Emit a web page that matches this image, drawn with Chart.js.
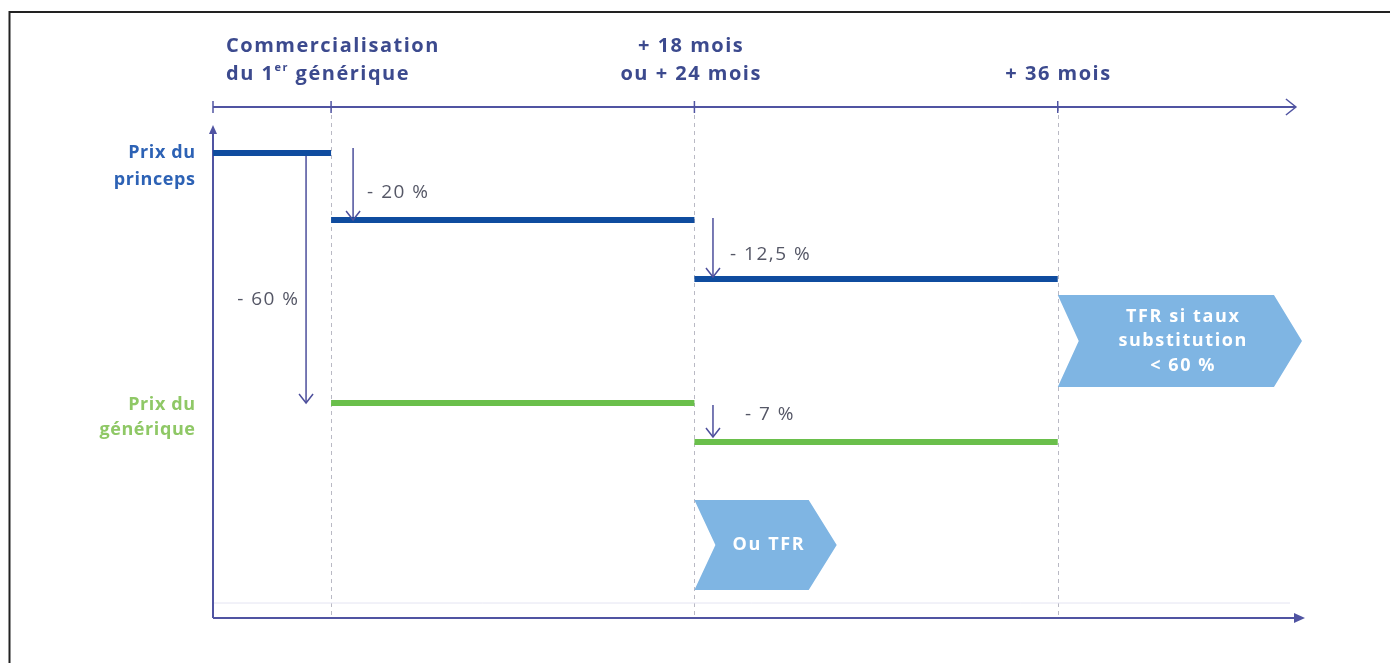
<!DOCTYPE html>
<html>
<head>
<meta charset="utf-8">
<script src="https://cdn.jsdelivr.net/npm/chart.js@4/dist/chart.umd.min.js"></script>
<style>
  html, body { margin: 0; padding: 0; background: #fff; }
</style>
</head>
<body>
<canvas id="frise" width="1390" height="663"></canvas>
<script>
// etapes de la frise (mois apres commercialisation du 1er generique)
const etapes = ['Commercialisation\ndu 1^er générique', '+ 18 mois\nou + 24 mois', '+ 36 mois'];
const etapeMois = [0, 18, 36];
const debutMois = -5.85;
const finMois = 48.25;

// niveaux de prix (schematiques, pas proportionnels)
const princepsNiveaux = [93, 79.6, 67.8];
const generiqueNiveaux = [43, 35.2];

// baisses de prix
const baisseLabels = ['- 20 %', '- 12,5 %', '- 60 %', '- 7 %'];
const baisseMois = [1.09, 18.92, -1.24, 18.92];
const baisseDe = [94, 80, 93, 42.6];
const baisseA = [79.6, 68.2, 43, 36.2];

// fleches TFR
const tfrLabels = ['TFR si taux\nsubstitution\n< 60 %', 'Ou TFR'];
const tfrMois = [[36, 48.1], [18, 25.05]];
const tfrNiveaux = [[46.2, 64.6], [5.6, 23.6]];

const axeColor = '#5054a2';
const flecheColor = '#4d4f9c';
const font = '"Open Sans", sans-serif';

function segments(niveaux, debuts, fins){
  const pts = [];
  niveaux.forEach((n, i) => {
    if (i > 0) pts.push({x: debuts[i], y: null});
    pts.push({x: debuts[i], y: n});
    pts.push({x: fins[i], y: n});
  });
  return pts;
}

const princepsData = segments(princepsNiveaux, [debutMois, etapeMois[0], etapeMois[1]], [etapeMois[0], etapeMois[1], etapeMois[2]]);
const generiqueData = segments(generiqueNiveaux, [etapeMois[0], etapeMois[1]], [etapeMois[1], etapeMois[2]]);

const datasets = [
  {label: 'Prix du princeps', data: princepsData, borderColor: '#0f4c9f', borderWidth: 6, spanGaps: false},
  {label: 'Prix du générique', data: generiqueData, borderColor: '#6abf4b', borderWidth: 6, spanGaps: false}
];
baisseLabels.forEach((l, i) => {
  datasets.push({
    label: l,
    data: [{x: baisseMois[i], y: baisseDe[i]}, {x: baisseMois[i], y: baisseA[i]}],
    borderColor: flecheColor,
    borderWidth: 1.5
  });
});

// ecrit plusieurs lignes, gere l'exposant ^er
function texte(ctx, str, x, y, align, lh, size, weight, color, spacing){
  ctx.save();
  ctx.fillStyle = color;
  ctx.textBaseline = 'middle';
  ctx.letterSpacing = (spacing || 0) + 'px';
  const sp = spacing || 0;
  str.split('\n').forEach((ligne, k) => {
    const yy = y + k * lh;
    const parts = ligne.split('^');
    if (parts.length === 1) {
      ctx.font = weight + ' ' + size + 'px ' + font;
      ctx.textAlign = 'left';
      const w = ctx.measureText(ligne).width - sp;
      let x0 = x;
      if (align === 'center') x0 = x - w / 2;
      if (align === 'right') x0 = x - w;
      ctx.fillText(ligne, x0, yy);
      return;
    }
    const sup = parts[1].slice(0, 2);
    const reste = parts[1].slice(2);
    ctx.font = weight + ' ' + size + 'px ' + font;
    const w1 = ctx.measureText(parts[0]).width;
    const w3 = ctx.measureText(reste).width;
    ctx.font = weight + ' ' + Math.round(size * 0.55) + 'px ' + font;
    const w2 = ctx.measureText(sup).width;
    let x0 = x;
    if (align === 'center') x0 = x - (w1 + w2 + w3 - sp) / 2;
    if (align === 'right') x0 = x - (w1 + w2 + w3 - sp);
    ctx.textAlign = 'left';
    ctx.font = weight + ' ' + size + 'px ' + font;
    ctx.fillText(parts[0], x0, yy);
    ctx.font = weight + ' ' + Math.round(size * 0.55) + 'px ' + font;
    ctx.fillText(sup, x0 + w1, yy - size * 0.3);
    ctx.font = weight + ' ' + size + 'px ' + font;
    ctx.fillText(reste, x0 + w1 + w2, yy);
  });
  ctx.restore();
}

const decor = {
  id: 'decor',
  beforeDatasetsDraw(chart){
    const {ctx, scales: {x, y}} = chart;
    ctx.save();
    // cadre
    ctx.strokeStyle = '#222';
    ctx.lineWidth = 2;
    ctx.beginPath();
    ctx.moveTo(9.5, 663); ctx.lineTo(9.5, 12); ctx.lineTo(1390, 12);
    ctx.stroke();

    const yAxeHaut = y.getPixelForValue(102.2);
    const y0 = y.getPixelForValue(0);
    const xo = x.getPixelForValue(debutMois);
    const xf = x.getPixelForValue(finMois);

    // pointilles verticaux
    ctx.strokeStyle = '#b9b9c4';
    ctx.lineWidth = 1;
    ctx.setLineDash([4, 4]);
    etapeMois.forEach(m => {
      const px = Math.round(x.getPixelForValue(m)) + 0.5;
      ctx.beginPath(); ctx.moveTo(px, yAxeHaut); ctx.lineTo(px, y0); ctx.stroke();
    });
    ctx.setLineDash([]);

    // ligne pale au dessus de l'axe bas
    ctx.strokeStyle = '#e4e4f2';
    ctx.beginPath(); ctx.moveTo(xo, y.getPixelForValue(3)); ctx.lineTo(xf - 15, y.getPixelForValue(3)); ctx.stroke();

    // axe du temps en haut
    ctx.strokeStyle = axeColor;
    ctx.lineWidth = 2;
    const xh = x.getPixelForValue(47.8);
    ctx.beginPath(); ctx.moveTo(xo, yAxeHaut); ctx.lineTo(xh, yAxeHaut); ctx.stroke();
    ctx.lineWidth = 1.5;
    ctx.beginPath(); ctx.moveTo(xh - 10, yAxeHaut - 8); ctx.lineTo(xh, yAxeHaut); ctx.lineTo(xh - 10, yAxeHaut + 8); ctx.stroke();
    [debutMois].concat(etapeMois).forEach(m => {
      const px = x.getPixelForValue(m);
      ctx.beginPath(); ctx.moveTo(px, yAxeHaut - 6); ctx.lineTo(px, yAxeHaut + 6); ctx.stroke();
    });

    // axe vertical
    const yTop = y.getPixelForValue(98.6);
    ctx.lineWidth = 2;
    ctx.beginPath(); ctx.moveTo(xo, y0); ctx.lineTo(xo, yTop + 4); ctx.stroke();
    ctx.fillStyle = axeColor;
    ctx.beginPath(); ctx.moveTo(xo, yTop); ctx.lineTo(xo - 4, yTop + 9); ctx.lineTo(xo + 4, yTop + 9); ctx.closePath(); ctx.fill();

    // axe bas
    ctx.beginPath(); ctx.moveTo(xo, y0); ctx.lineTo(xf - 6, y0); ctx.stroke();
    ctx.beginPath(); ctx.moveTo(xf, y0); ctx.lineTo(xf - 11, y0 - 5); ctx.lineTo(xf - 11, y0 + 5); ctx.closePath(); ctx.fill();

    // fleches TFR
    tfrLabels.forEach((l, i) => {
      const g = x.getPixelForValue(tfrMois[i][0]);
      const d = x.getPixelForValue(tfrMois[i][1]);
      const h = y.getPixelForValue(tfrNiveaux[i][1]);
      const b = y.getPixelForValue(tfrNiveaux[i][0]);
      const m = (h + b) / 2;
      ctx.fillStyle = '#7fb5e3';
      ctx.beginPath();
      ctx.moveTo(g, h); ctx.lineTo(d - 28, h); ctx.lineTo(d, m); ctx.lineTo(d - 28, b);
      ctx.lineTo(g, b); ctx.lineTo(g + 21, m); ctx.closePath(); ctx.fill();
      const n = l.split('\n').length;
      texte(ctx, l, (g + 21 + d - 10) / 2 - 3, m - (n - 1) * 24.5 / 2, 'center', 24.5, 18, 'bold', '#fff', 1.6);
    });
    ctx.restore();
  },
  afterDatasetsDraw(chart){
    const {ctx, scales: {x, y}} = chart;
    ctx.save();
    // pointes des fleches de baisse
    ctx.strokeStyle = flecheColor;
    ctx.lineWidth = 1.5;
    baisseLabels.forEach((l, i) => {
      const px = x.getPixelForValue(baisseMois[i]);
      const py = y.getPixelForValue(baisseA[i]);
      ctx.beginPath(); ctx.moveTo(px - 7, py - 9); ctx.lineTo(px, py); ctx.lineTo(px + 7, py - 9); ctx.stroke();
    });
    // textes des baisses
    const pos = [[14, 85, 'left'], [17, 72.6, 'left'], [-8, 63.6, 'right'], [32, 40.6, 'left']];
    baisseLabels.forEach((l, i) => {
      texte(ctx, l, x.getPixelForValue(baisseMois[i]) + pos[i][0], y.getPixelForValue(pos[i][1]), pos[i][2], 20, 19, 'normal', '#555766', 1.5);
    });
    // etapes en haut
    const yL2 = y.getPixelForValue(108.8);
    texte(ctx, etapes[0], x.getPixelForValue(debutMois) + 13, yL2 - 28, 'left', 28, 20, 'bold', '#3c4a8e', 1.5);
    texte(ctx, etapes[1], x.getPixelForValue(etapeMois[1]) - 4, yL2 - 28, 'center', 28, 20, 'bold', '#3c4a8e', 1.5);
    texte(ctx, etapes[2], x.getPixelForValue(etapeMois[2]), yL2, 'center', 28, 20, 'bold', '#3c4a8e', 1.5);
    // noms des series
    texte(ctx, datasets[0].label.replace('du ', 'du\n'), 195, y.getPixelForValue(princepsNiveaux[0]), 'right', 27, 18, 'bold', '#2d62b5', 0.6);
    texte(ctx, datasets[1].label.replace('du ', 'du\n'), 195, y.getPixelForValue(generiqueNiveaux[0]) + 2, 'right', 25, 18, 'bold', '#8fc866', 0.6);
    ctx.restore();
  }
};

new Chart(document.getElementById('frise'), {
  type: 'line',
  data: {datasets: datasets},
  options: {
    responsive: false,
    animation: false,
    devicePixelRatio: 1,
    layout: {padding: {left: 213, right: 85, top: 18, bottom: 45}},
    elements: {point: {radius: 0}, line: {tension: 0}},
    scales: {
      x: {type: 'linear', min: debutMois, max: finMois, display: false},
      y: {type: 'linear', min: 0, max: 120, display: false}
    },
    plugins: {legend: {display: false}, tooltip: {enabled: false}}
  },
  plugins: [decor]
});
</script>
</body>
</html>
